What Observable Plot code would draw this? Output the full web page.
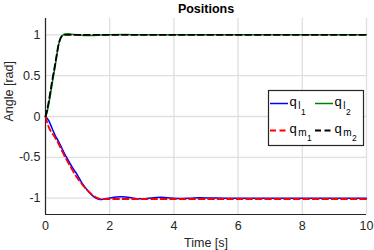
<!DOCTYPE html>
<html><head><meta charset="utf-8">
<script src="https://cdn.jsdelivr.net/npm/d3@7"></script>
<script src="https://cdn.jsdelivr.net/npm/@observablehq/plot@0.6"></script>
<style>body{margin:0;background:#fff;font-family:"Liberation Sans",Arial,sans-serif}</style>
</head><body><div id="chart"></div>
<script>
const xTicks = [0, 2, 4, 6, 8, 10];
const yTicks = [-1, -0.5, 0, 0.5, 1];

const tL1 = [0,0.1,0.2,0.3,0.4,0.5,0.6,0.7,0.8,0.9,1.0,1.1,1.2,1.3,1.4,1.5,1.6,1.7,1.8,1.9,2.0,2.2,2.35,2.5,2.7,2.9,3.1,3.3,3.6,3.9,4.2,4.5,4.8,5.2,5.6,6,7,8,9,10];
const qL1 = [0,-0.05,-0.14,-0.23,-0.3,-0.38,-0.46,-0.53,-0.6,-0.66,-0.72,-0.79,-0.85,-0.9,-0.945,-0.98,-1.005,-1.015,-1.012,-1.005,-0.998,-0.985,-0.982,-0.985,-0.998,-1.008,-1.006,-0.998,-0.99,-0.997,-1.004,-1.002,-0.996,-0.998,-1.0,-1,-1,-1,-1,-1];

const tL2 = [0,0.05,0.1,0.15,0.2,0.25,0.3,0.35,0.4,0.45,0.5,0.55,0.6,0.7,0.8,1.0,1.2,1.4,1.7,2,2.5,3,4,5,6,7,8,9,10];
const qL2 = [0,0.05,0.15,0.26,0.38,0.5,0.61,0.74,0.86,0.94,0.98,1.0,1.01,1.012,1.008,1.0,0.993,0.993,0.998,1.002,1.003,1.0,1.0,1.0,1.0,1.0,1.0,1.0,1.0];

const tM1 = [0,0.1,0.2,0.3,0.4,0.5,0.6,0.7,0.8,0.9,1.0,1.1,1.2,1.3,1.4,1.5,1.6,1.7,1.8,2,3,4,5,6,7,8,9,10];
const qM1 = [0,-0.13,-0.2,-0.26,-0.33,-0.41,-0.49,-0.56,-0.63,-0.7,-0.76,-0.81,-0.86,-0.9,-0.94,-0.97,-0.995,-1.01,-1.012,-1.01,-1.01,-1.01,-1.01,-1.01,-1.01,-1.01,-1.01,-1.01];

const tM2 = [0,0.05,0.1,0.15,0.2,0.25,0.3,0.35,0.4,0.45,0.5,0.55,0.6,0.8,1,2,3,4,5,6,7,8,9,10];
const qM2 = [0,0.08,0.18,0.3,0.42,0.53,0.64,0.76,0.87,0.94,0.98,0.995,1.0,1.0,1.0,1.0,1.0,1.0,1.0,1.0,1.0,1.0,1.0,1.0];

const seriesSubs = ["l", "l", "m", "m"];
const seriesIdx = ["1", "2", "1", "2"];
const seriesColors = ["#0000ff", "#008000", "#ff0000", "#000000"];

const mk = (ts, vs) => ts.map((t, i) => ({t, v: vs[i]}));
const dL1 = mk(tL1, qL1), dL2 = mk(tL2, qL2), dM1 = mk(tM1, qM1), dM2 = mk(tM2, qM2);

const FS = 12.5;
const plot = Plot.plot({
  width: 374, height: 250,
  marginLeft: 45, marginRight: 8, marginTop: 18, marginBottom: 36,
  style: {fontFamily: "Liberation Sans, Arial, sans-serif", fontSize: FS + "px", color: "#262626", background: "#fff"},
  x: {domain: [0, 10], label: null},
  y: {domain: [-1.2, 1.2], label: null},
  marks: [
    Plot.gridX(xTicks, {stroke: "#dfdfdf", strokeOpacity: 1, strokeWidth: 1.3}),
    Plot.gridY(yTicks, {stroke: "#dfdfdf", strokeOpacity: 1, strokeWidth: 1.3}),
    Plot.axisX({ticks: xTicks, tickFormat: d => String(d), tickSize: 0, tickPadding: 7, fontSize: FS, label: null, fill: "#262626"}),
    Plot.axisY({ticks: yTicks, tickFormat: d => String(d), tickSize: 0, tickPadding: 5, fontSize: FS, label: null, fill: "#262626"}),
    Plot.ruleX([0], {stroke: "#262626", strokeWidth: 1.2}),
    Plot.ruleY([-1.2], {stroke: "#262626", strokeWidth: 1.2}),
    Plot.line(dL1, {x: "t", y: "v", stroke: seriesColors[0], strokeWidth: 1.5, curve: "monotone-x"}),
    Plot.line(dL2, {x: "t", y: "v", stroke: seriesColors[1], strokeWidth: 1.5, curve: "monotone-x"}),
    Plot.line(dM1, {x: "t", y: "v", stroke: seriesColors[2], strokeWidth: 1.8, strokeDasharray: "6,3.5", curve: "monotone-x"}),
    Plot.line(dM2, {x: "t", y: "v", stroke: seriesColors[3], strokeWidth: 1.8, strokeDasharray: "6,3.5", curve: "monotone-x"}),
    Plot.text(["Positions"], {frameAnchor: "top", lineAnchor: "middle", dy: -10, fontWeight: "bold", fontSize: FS, fill: "#000"}),
    Plot.text(["Time [s]"], {frameAnchor: "bottom", lineAnchor: "middle", dy: 28, fontSize: FS, fill: "#262626"}),
    Plot.text(["Angle [rad]"], {frameAnchor: "left", lineAnchor: "middle", dx: -37, dy: 5, rotate: -90, fontSize: FS, fill: "#262626"})
  ]
});
document.getElementById("chart").append(plot);

// legend
const svg = d3.select(plot);
const lg = svg.append("g").attr("font-family", "Liberation Sans, Arial, sans-serif").attr("fill", "#000").attr("text-anchor", "start");
lg.append("rect").attr("x", 268.5).attr("y", 90.5).attr("width", 95).attr("height", 55)
  .attr("fill", "#fff").attr("stroke", "#262626").attr("stroke-width", 1.2);
const pos = [{x: 270, y: 103.5}, {x: 315, y: 103.5}, {x: 270, y: 130.5}, {x: 315, y: 130.5}];
pos.forEach((p, i) => {
  const dashed = i >= 2;
  const l = lg.append("line").attr("x1", p.x).attr("x2", p.x + (dashed ? 17 : 18)).attr("y1", p.y).attr("y2", p.y)
    .attr("stroke", seriesColors[i]).attr("stroke-width", dashed ? 1.8 : 1.5);
  if (dashed) l.attr("stroke-dasharray", "6,3.5");
  const t = lg.append("text").attr("x", p.x + 19.5).attr("y", p.y + 2).attr("font-size", 13);
  t.append("tspan").text("q");
  t.append("tspan").attr("dx", 1.5).attr("dy", 3.4).attr("font-size", 10).text(seriesSubs[i]);
  t.append("tspan").attr("dx", 0.5).attr("dy", seriesSubs[i] === "l" ? 6 : 5).attr("font-size", 8.5).text(seriesIdx[i]);
});
</script>
</body></html>
